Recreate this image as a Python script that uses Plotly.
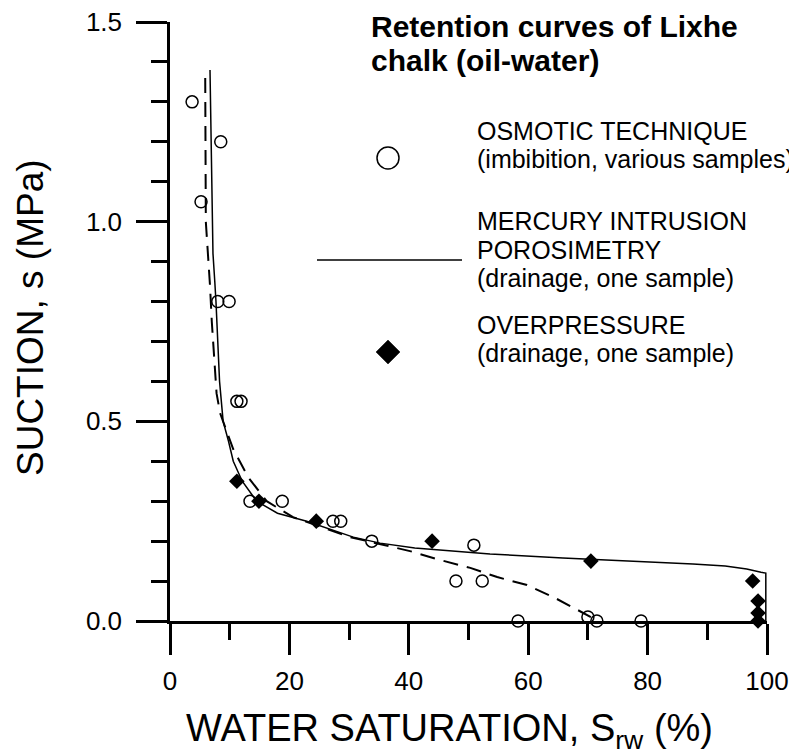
import plotly.graph_objects as go

# ---------------- data ----------------
osm_x = [3.7, 8.5, 5.2, 8.0, 9.9, 11.2, 11.9, 13.4, 18.8, 27.3, 28.6, 33.8, 47.9, 50.9, 52.3, 58.3, 70.0, 71.5, 78.9]
osm_y = [1.30, 1.20, 1.05, 0.80, 0.80, 0.55, 0.55, 0.30, 0.30, 0.25, 0.25, 0.20, 0.10, 0.19, 0.10, 0.0, 0.01, 0.0, 0.0]

ovp_x = [11.2, 14.9, 24.5, 43.9, 70.5, 97.6, 98.5, 98.5, 98.5]
ovp_y = [0.35, 0.30, 0.25, 0.20, 0.15, 0.10, 0.05, 0.02, 0.0]

mip_x = [6.7, 6.9, 7.2, 7.5, 7.7, 8.3, 8.9, 9.8, 10.6, 12.1, 14.5, 18.0, 22.9, 30.7, 35.2, 41.0, 53.6, 65.8, 70.5, 80.0, 87.6, 93.0, 96.6, 99.0, 99.8, 99.8]
mip_y = [1.38, 1.20, 0.92, 0.85, 0.80, 0.60, 0.50, 0.45, 0.40, 0.35, 0.30, 0.27, 0.25, 0.21, 0.195, 0.183, 0.168, 0.158, 0.155, 0.148, 0.143, 0.138, 0.130, 0.122, 0.120, 0.0]

fit_x = [5.9, 6.0, 6.7, 7.0, 7.8, 8.4, 10.6, 13.1, 16.2, 20.6, 30.2, 40.2, 45.2, 50.3, 54.8, 59.8, 64.2, 69.2, 70.5]
fit_y = [1.36, 1.00, 0.84, 0.75, 0.57, 0.52, 0.43, 0.36, 0.30, 0.26, 0.21, 0.175, 0.153, 0.133, 0.110, 0.090, 0.060, 0.020, 0.010]

x_ticks = [0, 20, 40, 60, 80, 100]
y_ticks = [0.0, 0.5, 1.0, 1.5]

title_lines = ["Retention curves of Lixhe", "chalk (oil-water)"]
legend_lines = [
    ("OSMOTIC TECHNIQUE", 140), ("(imbibition, various samples)", 168),
    ("MERCURY INTRUSION", 230), ("POROSIMETRY", 259), ("(drainage, one sample)", 287),
    ("OVERPRESSURE", 334), ("(drainage, one sample)", 362),
]

# ---------------- layout geometry (screen pixels) ----------------
OFF = 8                      # page body margin
SW, SH = 797, 756            # window
PL, PR_, PT, PB = 170, 767, 22, 621   # plot area on screen
W, H = SW - OFF, SH - OFF
L, T = PL - OFF, PT - OFF
PW, PH = PR_ - PL, PB - PT
R, B = W - L - PW, H - T - PH
FONT = "Liberation Sans, Arial, sans-serif"


def px(xs):
    return (xs - PL) / PW


def py(ys):
    return (PB - ys) / PH


fig = go.Figure()
fig.add_trace(go.Scatter(x=mip_x, y=mip_y, mode="lines",
                         line=dict(color="black", width=1.5), showlegend=False))
fig.add_trace(go.Scatter(x=fit_x, y=fit_y, mode="lines",
                         line=dict(color="black", width=2, dash="15px,9px"), showlegend=False))
fig.add_trace(go.Scatter(x=osm_x, y=osm_y, mode="markers", cliponaxis=False,
                         marker=dict(symbol="circle-open", size=12, color="black",
                                     line=dict(width=1.5, color="black")),
                         showlegend=False))
fig.add_trace(go.Scatter(x=ovp_x, y=ovp_y, mode="markers", cliponaxis=False,
                         marker=dict(symbol="diamond", size=12, color="black"),
                         showlegend=False))

axis_common = dict(
    showgrid=False, zeroline=False, showline=True, linecolor="black", linewidth=2.5,
    ticks="outside", ticklen=31, tickwidth=2.5, tickcolor="black",
    ticklabeloverflow="allow",
    tickfont=dict(family=FONT, size=26, color="black"),
)
fig.update_xaxes(range=[0, 100], tickvals=x_ticks, ticklabelstandoff=4,
                 minor=dict(dtick=10, ticks="outside", ticklen=16, tickwidth=2.5,
                            tickcolor="black", showgrid=False),
                 **axis_common)
fig.update_yaxes(range=[0, 1.5], tickvals=y_ticks, tickformat=".1f",
                 ticklabelstandoff=9,
                 minor=dict(dtick=0.1, ticks="outside", ticklen=16, tickwidth=2.5,
                            tickcolor="black", showgrid=False),
                 **axis_common)

ann = []
# axis titles
ann.append(dict(text="WATER SATURATION, S<sub>rw</sub> (%)", xref="paper", yref="paper",
                x=px(449), y=py(731), xanchor="center", yanchor="middle", showarrow=False,
                font=dict(family=FONT, size=38, color="black")))
ann.append(dict(text="SUCTION, s (MPa)", xref="paper", yref="paper", textangle=-90,
                x=px(30), y=py(318), xanchor="center", yanchor="middle", showarrow=False,
                font=dict(family=FONT, size=37, color="black")))
# title
for txt, base in zip(title_lines, [37, 71]):
    ann.append(dict(text="<b>%s</b>" % txt, xref="paper", yref="paper",
                    x=px(369), y=py(base - 0.35 * 30), xanchor="left", yanchor="middle",
                    showarrow=False, font=dict(family=FONT, size=30, color="black")))
# legend texts
for txt, base in legend_lines:
    ann.append(dict(text=txt, xref="paper", yref="paper",
                    x=px(475), y=py(base - 0.35 * 25), xanchor="left", yanchor="middle",
                    showarrow=False, font=dict(family=FONT, size=25, color="black")))

shapes = [
    # circle key
    dict(type="circle", xref="paper", yref="paper", xsizemode="pixel", ysizemode="pixel",
         xanchor=px(388), yanchor=py(158), x0=-11, x1=11, y0=-11, y1=11,
         line=dict(color="black", width=1.5), fillcolor="rgba(0,0,0,0)"),
    # line key
    dict(type="line", xref="paper", yref="paper", x0=px(317), x1=px(462), y0=py(260), y1=py(260),
         line=dict(color="black", width=1.5)),
    # diamond key
    dict(type="path", xref="paper", yref="paper", xsizemode="pixel", ysizemode="pixel",
         xanchor=px(388), yanchor=py(352), path="M0,-12 L12,0 L0,12 L-12,0 Z",
         line=dict(color="black", width=0.5), fillcolor="black"),
]

fig.update_layout(
    width=W, height=H, margin=dict(l=L, r=R, t=T, b=B, autoexpand=False),
    plot_bgcolor="white", paper_bgcolor="white", showlegend=False,
    annotations=ann, shapes=shapes,
    font=dict(family=FONT, color="black"),
)

fig.write_html("out.html")
